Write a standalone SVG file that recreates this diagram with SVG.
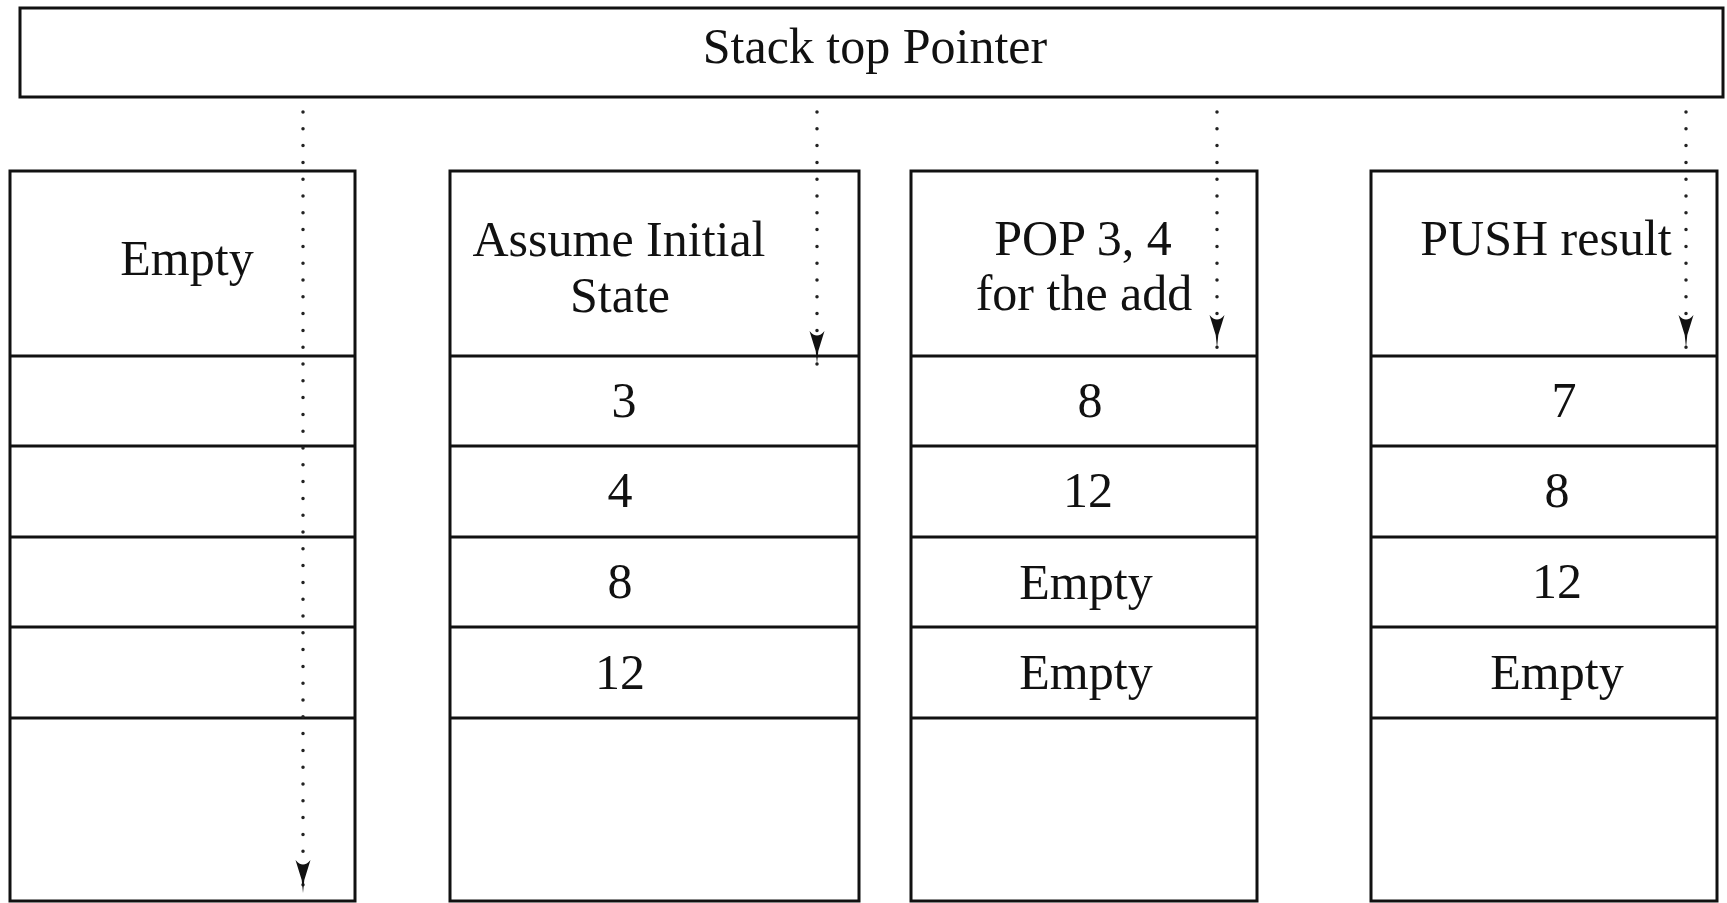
<svg xmlns="http://www.w3.org/2000/svg" width="1727" height="903" viewBox="0 0 1727 903">
<style>
.box{fill:#fff;stroke:#111;stroke-width:3}
.sep{stroke:#111;stroke-width:3}
.t{font-family:"Liberation Serif","Times New Roman",serif;font-size:50px;fill:#111;text-anchor:middle}
.ptr{stroke:#222;stroke-width:3.5;stroke-linecap:round;stroke-dasharray:0 16.8;fill:none;marker-end:url(#ah)}
</style>
<defs>
<marker id="ah" markerUnits="userSpaceOnUse" viewBox="-9 -36 18 38" refX="0" refY="0" markerWidth="18" markerHeight="38" orient="0" overflow="visible">
<path d="M0,0 L-1.3,-13 L-7.5,-33 Q0,-24 7.5,-33 L1.3,-13 Z" fill="#111"/>
</marker>
</defs>
<rect width="1727" height="903" fill="#fff"/>
<g id="stack-top-pointer">
<rect class="box" x="20" y="8" width="1703" height="89"/>
<text class="t" x="875" y="63">Stack top Pointer</text>
</g>
<g id="col-empty">
<rect class="box" x="10" y="171" width="345" height="730"/>
<line class="sep" x1="10" y1="356" x2="355" y2="356"/>
<line class="sep" x1="10" y1="446" x2="355" y2="446"/>
<line class="sep" x1="10" y1="537" x2="355" y2="537"/>
<line class="sep" x1="10" y1="627" x2="355" y2="627"/>
<line class="sep" x1="10" y1="718" x2="355" y2="718"/>
<text class="t" x="187" y="275">Empty</text>
</g>
<g id="col-initial">
<rect class="box" x="450" y="171" width="409" height="730"/>
<line class="sep" x1="450" y1="356" x2="859" y2="356"/>
<line class="sep" x1="450" y1="446" x2="859" y2="446"/>
<line class="sep" x1="450" y1="537" x2="859" y2="537"/>
<line class="sep" x1="450" y1="627" x2="859" y2="627"/>
<line class="sep" x1="450" y1="718" x2="859" y2="718"/>
<text class="t" x="619" y="256">Assume Initial</text>
<text class="t" x="620" y="312">State</text>
<text class="t" x="624" y="417">3</text>
<text class="t" x="620" y="507">4</text>
<text class="t" x="620" y="598">8</text>
<text class="t" x="620" y="689">12</text>
</g>
<g id="col-pop">
<rect class="box" x="911" y="171" width="346" height="730"/>
<line class="sep" x1="911" y1="356" x2="1257" y2="356"/>
<line class="sep" x1="911" y1="446" x2="1257" y2="446"/>
<line class="sep" x1="911" y1="537" x2="1257" y2="537"/>
<line class="sep" x1="911" y1="627" x2="1257" y2="627"/>
<line class="sep" x1="911" y1="718" x2="1257" y2="718"/>
<text class="t" x="1083" y="255">POP 3, 4</text>
<text class="t" x="1084" y="310">for the add</text>
<text class="t" x="1090" y="417">8</text>
<text class="t" x="1088" y="507">12</text>
<text class="t" x="1086" y="599">Empty</text>
<text class="t" x="1086" y="689">Empty</text>
</g>
<g id="col-push">
<rect class="box" x="1371" y="171" width="346" height="730"/>
<line class="sep" x1="1371" y1="356" x2="1717" y2="356"/>
<line class="sep" x1="1371" y1="446" x2="1717" y2="446"/>
<line class="sep" x1="1371" y1="537" x2="1717" y2="537"/>
<line class="sep" x1="1371" y1="627" x2="1717" y2="627"/>
<line class="sep" x1="1371" y1="718" x2="1717" y2="718"/>
<text class="t" x="1546" y="255">PUSH result</text>
<text class="t" x="1564" y="417">7</text>
<text class="t" x="1557" y="507">8</text>
<text class="t" x="1557" y="598">12</text>
<text class="t" x="1557" y="689">Empty</text>
</g>
<g id="connectors">
<line class="ptr" x1="303" y1="112" x2="303" y2="893"/>
<line class="ptr" x1="817" y1="112" x2="817" y2="364"/>
<line class="ptr" x1="1217" y1="112" x2="1217" y2="348"/>
<line class="ptr" x1="1686" y1="112" x2="1686" y2="348"/>
</g>
</svg>
